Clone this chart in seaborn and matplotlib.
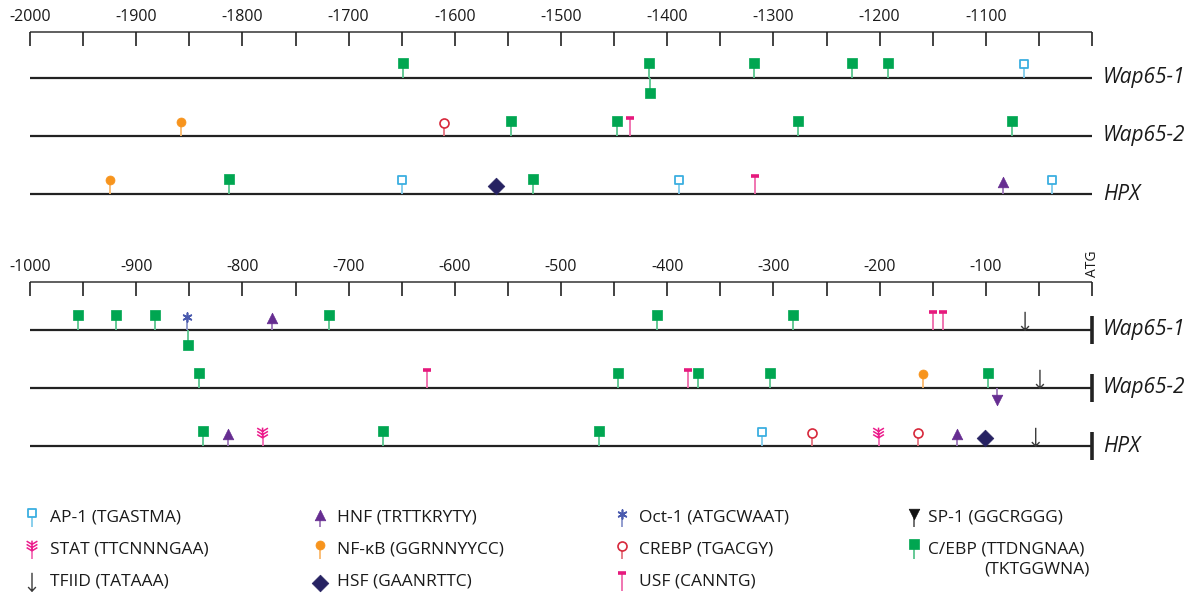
import matplotlib
matplotlib.use("Agg")
import matplotlib.pyplot as plt
from matplotlib.path import Path
from matplotlib import colors as mcolors
import seaborn as sns
import numpy as np

# binding sites (bp upstream of ATG), strand 1 = above line, -1 = below
genes = ["Wap65-1", "Wap65-2", "HPX"]

wap651_factor = ["C/EBP", "C/EBP", "C/EBP", "C/EBP", "C/EBP", "C/EBP", "AP-1",
                 "C/EBP", "C/EBP", "C/EBP", "Oct-1", "C/EBP", "HNF", "C/EBP",
                 "C/EBP", "C/EBP", "USF", "USF", "TFIID"]
wap651_pos = [-1649, -1417, -1416, -1318, -1226, -1192, -1064,
              -955, -919, -882, -852, -851, -772, -718,
              -410, -282, -150, -140, -63]
wap651_strand = [1, 1, -1, 1, 1, 1, 1,
                 1, 1, 1, 1, -1, 1, 1,
                 1, 1, 1, 1, 1]

wap652_factor = ["NF-κB", "CREBP", "C/EBP", "C/EBP", "USF", "C/EBP", "C/EBP",
                 "C/EBP", "USF", "C/EBP", "USF", "C/EBP", "C/EBP", "NF-κB",
                 "C/EBP", "HNF", "TFIID"]
wap652_pos = [-1858, -1610, -1547, -1447, -1435, -1277, -1075,
              -841, -626, -446, -380, -371, -303, -159,
              -98, -89, -49]
wap652_strand = [1, 1, 1, 1, 1, 1, 1,
                 1, 1, 1, 1, 1, 1, 1,
                 1, -1, 1]

hpx_factor = ["NF-κB", "C/EBP", "AP-1", "HSF", "C/EBP", "AP-1", "USF", "HNF", "AP-1",
              "C/EBP", "HNF", "STAT", "C/EBP", "C/EBP", "AP-1", "CREBP", "STAT",
              "CREBP", "HNF", "HSF", "TFIID"]
hpx_pos = [-1925, -1813, -1650, -1561, -1526, -1389, -1317, -1084, -1038,
           -837, -814, -781, -668, -464, -311, -264, -201,
           -164, -127, -101, -53]
hpx_strand = [1] * len(hpx_pos)

# legend, column by column
legend_factor = ["AP-1", "STAT", "TFIID", "HNF", "NF-κB", "HSF",
                 "Oct-1", "CREBP", "USF", "SP-1", "C/EBP"]
legend_text = ["AP-1 (TGASTMA)", "STAT (TTCNNNGAA)", "TFIID (TATAAA)",
               "HNF (TRTTKRYTY)", "NF-κB (GGRNNYYCC)", "HSF (GAANRTTC)",
               "Oct-1 (ATGCWAAT)", "CREBP (TGACGY)", "USF (CANNTG)",
               "SP-1 (GGCRGGG)", "C/EBP (TTDNGNAA)"]

top_ticks = np.arange(-2000, -999, 50)
top_labels = np.arange(-2000, -1099, 100)
bottom_ticks = np.arange(-1000, 1, 50)
bottom_labels = np.arange(-1000, -99, 100)

# ---- custom marker shapes ----
V = Path.MOVETO
L = Path.LINETO
stat_verts, stat_codes = [(0, 1.0), (0, -0.9)], [V, L]
for yb in [-0.9, -0.3, 0.3]:
    stat_verts += [(-1, yb + 0.6), (0, yb), (1, yb + 0.6)]
    stat_codes += [V, L, L]
stat_marker = Path(stat_verts, stat_codes)
arrow_marker = Path([(0, 1), (0, -1), (-0.42, -0.55), (0, -1), (0.42, -0.55)],
                    [V, L, V, L, L])

styles = {
    "AP-1":  dict(color="#3BAFE0", marker="s", face="white", s=32, off=14, lw=1.3),
    "STAT":  dict(color="#EC1C8C", marker=stat_marker, face="none", s=60, off=13, lw=1.1),
    "TFIID": dict(color="#3a3a3a", marker=arrow_marker, face="none", s=175, off=9, lw=1.0, stem=False),
    "HNF":   dict(color="#662D91", marker="^", face=None, s=58, off=12),
    "NF-κB": dict(color="#F7941D", marker="o", face=None, s=42, off=14),
    "HSF":   dict(color="#262262", marker="D", face=None, s=72, off=8, stem=False),
    "Oct-1": dict(color="#4A5AAE", marker=(6, 2, 0), face="line", s=40, off=13, lw=1.2),
    "CREBP": dict(color="#D7283B", marker="o", face="white", s=42, off=13, lw=1.2),
    "USF":   dict(color="#E6197D", marker="_", face="line", s=36, off=18, lw=2.6),
    "SP-1":  dict(color="#111111", marker="v", face=None, s=58, off=13),
    "C/EBP": dict(color="#00A651", marker="s", face=None, s=42, off=15),
}
flip = {"^": "v", "v": "^"}

PX_PER_BP = 1.062
X0 = 30          # pixel of panel start
W, H = 1193, 594


def lighter(c, f=0.35):
    r = np.array(mcolors.to_rgb(c))
    return r + (1 - r) * f


def draw_site(ax, x, base_y, factor, strand=1):
    st = styles[factor]
    m = st["marker"]
    if strand < 0 and isinstance(m, str):
        m = flip.get(m, m)
    my = base_y - strand * st["off"]
    if st.get("stem", True):
        ax.vlines(x, base_y, my, colors=[lighter(st["color"])], lw=1.3, zorder=3)
    kw = dict(x=[x], y=[my], marker=m, s=st["s"], ax=ax, legend=False, zorder=5)
    if st["face"] is None:
        sns.scatterplot(color=st["color"], edgecolor=st["color"], linewidth=0.5, **kw)
    elif st["face"] == "line":
        sns.scatterplot(color=st["color"], linewidth=st["lw"], **kw)
    else:
        sns.scatterplot(color=st["color"], facecolor=st["face"], edgecolor=st["color"],
                        linewidth=st["lw"], **kw)


sns.set_theme(style="white")
plt.rcParams["font.family"] = ["Open Sans", "DejaVu Sans"]
text_col = "#1a1a1a"

fig = plt.figure(figsize=(W / 100, H / 100), dpi=100)


def panel(top_px, bot_px, start):
    ax = fig.add_axes([0, 1 - bot_px / H, 1, (bot_px - top_px) / H])
    ax.set_xlim(start - X0 / PX_PER_BP, start + (W - X0) / PX_PER_BP)
    ax.set_ylim(bot_px, top_px)
    ax.axis("off")
    return ax


ax_top = panel(0, 245, -2000)
ax_bot = panel(245, 480, -1000)
ax_leg = fig.add_axes([0, 0, 1, 114 / H])
ax_leg.set_xlim(0, W)
ax_leg.set_ylim(H, 480)
ax_leg.axis("off")

gene_sites = [(wap651_factor, wap651_pos, wap651_strand),
              (wap652_factor, wap652_pos, wap652_strand),
              (hpx_factor, hpx_pos, hpx_strand)]

for ax, start, ruler_y, row0, ticks, labels in [
        (ax_top, -2000, 32, 78, top_ticks, top_labels),
        (ax_bot, -1000, 282, 330, bottom_ticks, bottom_labels)]:
    end = start + 1000
    # ruler
    ax.hlines(ruler_y, start, end, colors="#444444", lw=1.2)
    ax.vlines(ticks, ruler_y, ruler_y + 14, colors="#222222", lw=1.2)
    for t in labels:
        ax.text(t, ruler_y - 15, f"{t}", ha="center", va="center",
                fontsize=11.5, color=text_col)
    label_x = end + 11 / PX_PER_BP
    for i, g in enumerate(genes):
        gy = row0 + i * 58
        ax.hlines(gy, start, end, colors="#222222", lw=1.6, zorder=2)
        if start == -1000:
            ax.vlines(end, gy - 14, gy + 14, colors="#222222", lw=2.6, zorder=2)
        ax.text(label_x, gy, g, ha="left", va="center", fontsize=15,
                fontstyle="italic", color=text_col)
        fac, pos, strand = gene_sites[i]
        for f, p, s in zip(fac, pos, strand):
            if start <= p < end:
                draw_site(ax, p, gy, f, s)

ax_bot.text(0, 277, "ATG", rotation=90, ha="center", va="bottom",
            fontsize=10, color=text_col)

# legend
icon_x = [32, 320, 622, 914]
text_x = [50, 337, 639, 928]
row_y = [518, 550, 582]
for k, (f, lab) in enumerate(zip(legend_factor, legend_text)):
    col, row = divmod(k, 3)
    draw_site(ax_leg, icon_x[col], row_y[row] + 9, f)
    ax_leg.text(text_x[col], row_y[row], lab, ha="left", va="center",
                fontsize=12.5, color=text_col)
ax_leg.text(984, 570, "(TKTGGWNA)", ha="left", va="center", fontsize=12.5, color=text_col)

fig.savefig("out.png", dpi=100)
